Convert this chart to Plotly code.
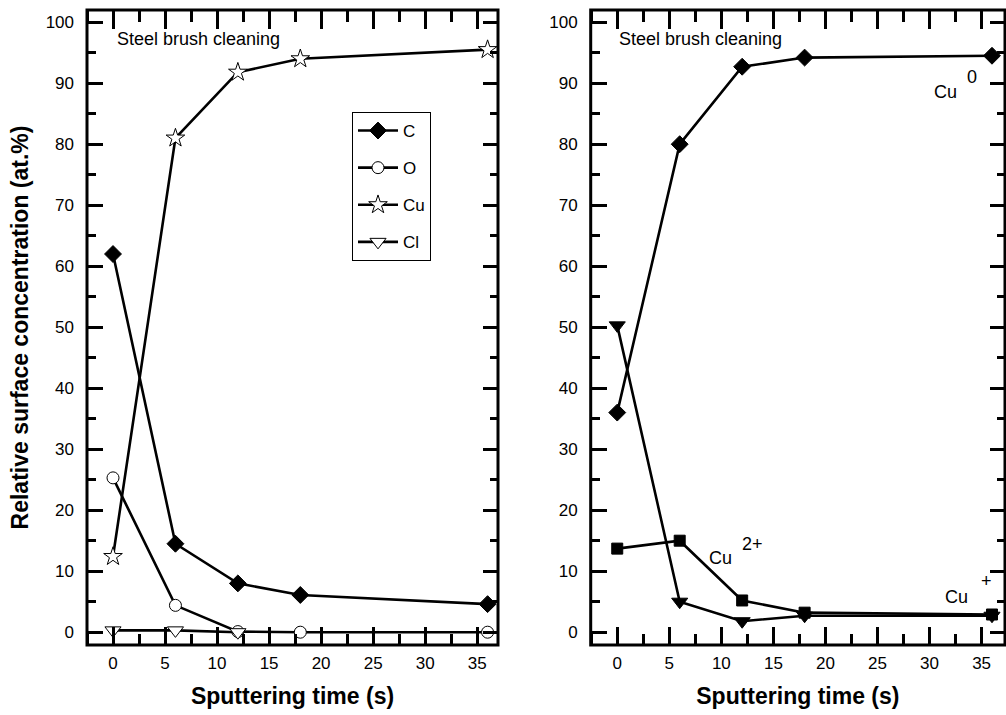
import plotly.graph_objects as go

# Sputtering times (s)
time_s = [0, 6, 12, 18, 36]

# Left panel: element concentrations (at.%)
c_vals = [62.0, 14.5, 8.0, 6.1, 4.6]
o_vals = [25.3, 4.4, 0.1, 0.0, 0.0]
cu_vals = [12.4, 81.0, 91.8, 94.0, 95.5]
cl_time = [0, 6, 12]
cl_vals = [0.3, 0.3, 0.0]

# Right panel: copper chemical states (at.%)
cu0_vals = [36.0, 80.0, 92.7, 94.2, 94.5]
cu2_vals = [13.7, 15.0, 5.2, 3.2, 2.9]
cu1_vals = [50.3, 5.0, 1.8, 2.7, 2.7]

FONT = "Arial, 'Liberation Sans', sans-serif"
LINE_W = 2.6

fig = go.Figure()


def add_series(x, y, symbol, fill, size, name, xa, ya, legend):
    fig.add_trace(go.Scatter(
        x=x, y=y, name=name, mode="lines+markers",
        xaxis=xa, yaxis=ya, showlegend=legend, legendgroup=name,
        line=dict(color="black", width=LINE_W),
        marker=dict(symbol=symbol, size=size, color=fill,
                    line=dict(color="black", width=1)),
        cliponaxis=False,
    ))


add_series(time_s, c_vals, "diamond", "black", 13, "C", "x", "y", True)
add_series(time_s, o_vals, "circle", "white", 12, "O", "x", "y", True)
add_series(time_s, cu_vals, "star", "white", 14, "Cu", "x", "y", True)
add_series(cl_time, cl_vals, "triangle-down", "white", 14, "Cl", "x", "y", True)

add_series(time_s, cu0_vals, "diamond", "black", 13, "Cu0", "x2", "y2", False)
add_series(time_s, cu2_vals, "square", "black", 11, "Cu2+", "x2", "y2", False)
add_series(time_s, cu1_vals, "triangle-down", "black", 14, "Cu+", "x2", "y2", False)

W, H = 1006, 715
y_dom = [1 - 645 / H, 1 - 10 / H]
x_doms = {1: [87 / W, 498 / W], 2: [590.7 / W, 1005 / W]}
x_ranges = {1: [-2.5, 37.0], 2: [-2.55, 37.25]}
y_range = [-2.1, 102]

tick_font = dict(family=FONT, size=17, color="black")
title_font = dict(family=FONT, size=23, color="black", weight="bold")


def tick_axis(dtick, length, minor_dtick, minor_len, **extra):
    """Unlabelled axis whose outward ticks point into the plot area."""
    base = dict(ticks="outside", ticklen=length, tickwidth=2.5,
                tickcolor="black", dtick=dtick, tick0=0, showgrid=False,
                zeroline=False, showline=False, showticklabels=False,
                minor=dict(ticks="outside", ticklen=minor_len, tickwidth=2.5,
                           tickcolor="black", dtick=minor_dtick,
                           showgrid=False))
    base.update(extra)
    return base


layout = dict(
    width=W, height=H,
    margin=dict(l=0, r=0, t=0, b=0),
    paper_bgcolor="white", plot_bgcolor="white",
    legend=dict(
        x=352 / W, y=1 - 112 / H, xanchor="left", yanchor="top",
        bordercolor="black", borderwidth=1, bgcolor="white",
        font=dict(family=FONT, size=17, color="black"),
        tracegroupgap=12, itemwidth=40,
    ),
    showlegend=True,
)

tick_pairs = []
for i in (1, 2):
    xs = "" if i == 1 else "2"
    # labelled axes (labels only)
    layout[f"xaxis{xs}"] = dict(
        domain=x_doms[i], range=x_ranges[i], anchor=f"y{xs}",
        ticks="", dtick=5, tick0=0, showgrid=False, zeroline=False,
        showline=False, tickfont=tick_font, ticklabelstandoff=6,
        title=dict(text="Sputtering time (s)", font=title_font, standoff=15),
    )
    layout[f"yaxis{xs}"] = dict(
        domain=y_dom, range=y_range, anchor=f"x{xs}",
        ticks="", dtick=10, tick0=0, showgrid=False, zeroline=False,
        showline=False, tickfont=tick_font, ticklabelstandoff=12,
    )
    n = 3 + 2 * (i - 1) * 2
    # bottom edge: ticks pointing up; top edge: ticks pointing down
    layout[f"xaxis{n}"] = tick_axis(
        5, 18, 2.5, 11, overlaying=f"x{xs}", anchor="free",
        position=y_dom[0], side="top", range=x_ranges[i])
    layout[f"xaxis{n + 1}"] = tick_axis(
        5, 18, 2.5, 11, overlaying=f"x{xs}", anchor="free",
        position=y_dom[1], side="bottom", range=x_ranges[i])
    # left edge: ticks pointing right; right edge: ticks pointing left
    layout[f"yaxis{n}"] = tick_axis(
        10, 15, 5, 8, overlaying=f"y{xs}", anchor="free",
        position=x_doms[i][0], side="right", range=y_range)
    layout[f"yaxis{n + 1}"] = tick_axis(
        10, 15, 5, 8, overlaying=f"y{xs}", anchor="free",
        position=x_doms[i][1], side="left", range=y_range)
    tick_pairs += [n, n + 1]

layout["yaxis"]["title"] = dict(
    text="Relative surface concentration (at.%)", font=title_font, standoff=10)

fig.update_layout(**layout)

# transparent traces so every tick axis is drawn
for n in tick_pairs:
    fig.add_trace(go.Scatter(x=[time_s[0]], y=[c_vals[0]], xaxis=f"x{n}",
                             yaxis=f"y{n}", mode="markers", showlegend=False,
                             marker=dict(opacity=0), hoverinfo="skip"))

# frame around each panel
for xr, yr in (("x", "y"), ("x2", "y2")):
    fig.add_shape(type="rect", xref=f"{xr} domain", yref=f"{yr} domain",
                  x0=0, x1=1, y0=0, y1=1, layer="above",
                  line=dict(color="black", width=3))

ann_font = dict(family=FONT, size=18, color="black")
notes = [
    ("x", "y", 0.2, 97.2, "Steel brush cleaning", "left"),
    ("x2", "y2", 0.0, 97.2, "Steel brush cleaning", "left"),
    ("x2", "y2", 31.5, 88.6, "Cu", "center"),
    ("x2", "y2", 34.1, 91.0, "0", "center"),
    ("x2", "y2", 9.9, 12.1, "Cu", "center"),
    ("x2", "y2", 13.0, 14.4, "2+", "center"),
    ("x2", "y2", 32.6, 5.7, "Cu", "center"),
    ("x2", "y2", 35.5, 8.4, "+", "center"),
]
for xr, yr, xv, yv, txt, anch in notes:
    fig.add_annotation(xref=xr, yref=yr, x=xv, y=yv, text=txt,
                       showarrow=False, xanchor=anch, yanchor="middle",
                       font=ann_font)

fig.write_html("out.html")
